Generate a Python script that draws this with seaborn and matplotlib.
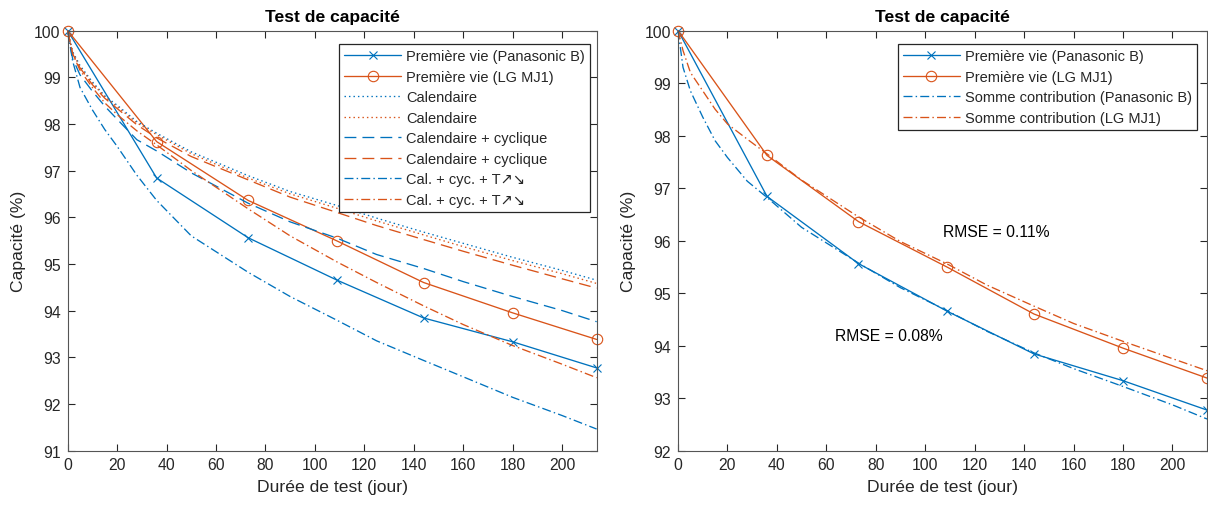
import matplotlib
matplotlib.use('Agg')
import matplotlib.pyplot as plt
import seaborn as sns

# Mesures (première vie)
jours = [0, 36, 73, 109, 144, 180, 214]
vie_panasonic = [100, 96.84, 95.56, 94.65, 93.84, 93.33, 92.77]
vie_lg = [100, 97.62, 96.36, 95.49, 94.60, 93.95, 93.38]

# Modèles
jours_modele = [0, 2, 5, 10, 15, 20, 28, 36, 50, 73, 90, 109, 125, 144, 160, 180, 200, 214]
cal_panasonic = [100, 99.55, 99.25, 98.9, 98.6, 98.4, 98.05, 97.8, 97.4, 96.89, 96.55, 96.25,
                 95.98, 95.68, 95.44, 95.14, 94.86, 94.65]
cal_lg = [100, 99.52, 99.22, 98.87, 98.58, 98.37, 98.02, 97.77, 97.36, 96.84, 96.5, 96.19,
          95.92, 95.62, 95.37, 95.07, 94.79, 94.58]
calcyc_panasonic = [100, 99.4, 99.05, 98.7, 98.38, 98.1, 97.66, 97.42, 96.95, 96.3, 95.9, 95.55,
                    95.2, 94.9, 94.62, 94.3, 94.0, 93.76]
calcyc_lg = [100, 99.5, 99.2, 98.84, 98.55, 98.33, 97.98, 97.7, 97.3, 96.8, 96.43, 96.1,
             95.82, 95.52, 95.27, 94.97, 94.68, 94.48]
calcyct_panasonic = [100, 99.35, 98.78, 98.3, 97.88, 97.52, 96.9, 96.36, 95.6, 94.82, 94.3, 93.79,
                     93.35, 92.93, 92.58, 92.14, 91.75, 91.46]
calcyct_lg = [100, 99.5, 99.15, 98.78, 98.45, 98.2, 97.85, 97.55, 97.0, 96.18, 95.6, 95.04,
              94.6, 94.1, 93.7, 93.25, 92.85, 92.56]
somme_panasonic = [100, 99.3, 98.85, 98.35, 97.9, 97.58, 97.13, 96.82, 96.25, 95.57, 95.1, 94.66,
                   94.27, 93.86, 93.56, 93.22, 92.87, 92.6]
somme_lg = [100, 99.62, 99.2, 98.85, 98.5, 98.22, 97.93, 97.65, 97.15, 96.45, 95.98, 95.55,
            95.15, 94.75, 94.42, 94.08, 93.75, 93.52]

BLEU = '#0072BD'
ORANGE = '#D95319'
GRIS = '#262626'
LW = 0.95
POINTILLE = (0, (1.1, 2.3))
TIRET = (0, (9, 4.6))
TIRET_POINT = (0, (6.8, 2.4, 1.1, 2.4))

sns.set_theme(style='ticks')
plt.rcParams['font.family'] = ['Liberation Sans', 'DejaVu Sans']
plt.rcParams['axes.edgecolor'] = GRIS
plt.rcParams['xtick.color'] = GRIS
plt.rcParams['ytick.color'] = GRIS
plt.rcParams['text.color'] = GRIS
plt.rcParams['axes.labelcolor'] = GRIS


def courbe(ax, x, y, couleur, label, style='-', marker=None):
    kw = dict(color=couleur, linewidth=LW, linestyle=style, label=label,
              estimator=None, errorbar=None, sort=False, clip_on=False)
    if marker:
        kw.update(marker=marker, markersize=6 if marker == 'x' else 7.5,
                  markerfacecolor='none', markeredgecolor=couleur, markeredgewidth=0.8)
    sns.lineplot(x=x, y=y, ax=ax, **kw)


def habiller(ax, ymin):
    ax.set_xlim(0, 214)
    ax.set_ylim(ymin, 100)
    ax.set_xticks(range(0, 201, 20))
    ax.set_yticks(range(ymin, 101))
    ax.tick_params(direction='in', length=5, width=0.8, labelsize=11.3,
                   top=True, right=True, pad=5)
    for s in ax.spines.values():
        s.set_visible(True)
        s.set_linewidth(0.8)
        s.set_color('#555555')
    ax.set_xlabel('Durée de test (jour)', fontsize=12.6, labelpad=5)
    ax.set_ylabel('Capacité (%)', fontsize=12.6, labelpad=6)
    ax.set_title('Test de capacité', fontsize=12.6, fontweight='bold', pad=7, color='black')


fig = plt.figure(figsize=(12.08, 5.06), dpi=100)
ax1 = fig.add_axes([0.0560, 0.1077, 0.4379, 0.8300])
ax2 = fig.add_axes([0.5613, 0.1077, 0.4379, 0.8300])

# Panneau gauche
courbe(ax1, jours, vie_panasonic, BLEU, 'Première vie (Panasonic B)', marker='x')
courbe(ax1, jours, vie_lg, ORANGE, 'Première vie (LG MJ1)', marker='o')
courbe(ax1, jours_modele, cal_panasonic, BLEU, 'Calendaire', POINTILLE)
courbe(ax1, jours_modele, cal_lg, ORANGE, 'Calendaire', POINTILLE)
courbe(ax1, jours_modele, calcyc_panasonic, BLEU, 'Calendaire + cyclique', TIRET)
courbe(ax1, jours_modele, calcyc_lg, ORANGE, 'Calendaire + cyclique', TIRET)
courbe(ax1, jours_modele, calcyct_panasonic, BLEU, 'Cal. + cyc. + T\u2197\u2198', TIRET_POINT)
courbe(ax1, jours_modele, calcyct_lg, ORANGE, 'Cal. + cyc. + T\u2197\u2198', TIRET_POINT)
habiller(ax1, 91)

# Panneau droit
courbe(ax2, jours, vie_panasonic, BLEU, 'Première vie (Panasonic B)', marker='x')
courbe(ax2, jours, vie_lg, ORANGE, 'Première vie (LG MJ1)', marker='o')
courbe(ax2, jours_modele, somme_panasonic, BLEU, 'Somme contribution (Panasonic B)', TIRET_POINT)
courbe(ax2, jours_modele, somme_lg, ORANGE, 'Somme contribution (LG MJ1)', TIRET_POINT)
habiller(ax2, 92)
ax2.text(107, 96.17, 'RMSE = 0.11%', fontsize=11.3, va='center', ha='left', color='black')
ax2.text(63.5, 94.2, 'RMSE = 0.08%', fontsize=11.3, va='center', ha='left', color='black')

for ax, ancre in ((ax1, (0.988, 0.968)), (ax2, (0.981, 0.968))):
    leg = ax.legend(loc='upper right', bbox_to_anchor=ancre, fontsize=10.5, frameon=True,
                    fancybox=False, framealpha=1, edgecolor=GRIS, handlelength=3.9,
                    handletextpad=0.35, labelspacing=0.45, borderpad=0.35,
                    borderaxespad=0, numpoints=1)
    leg.get_frame().set_linewidth(0.9)

fig.savefig('out.png', dpi=100)
